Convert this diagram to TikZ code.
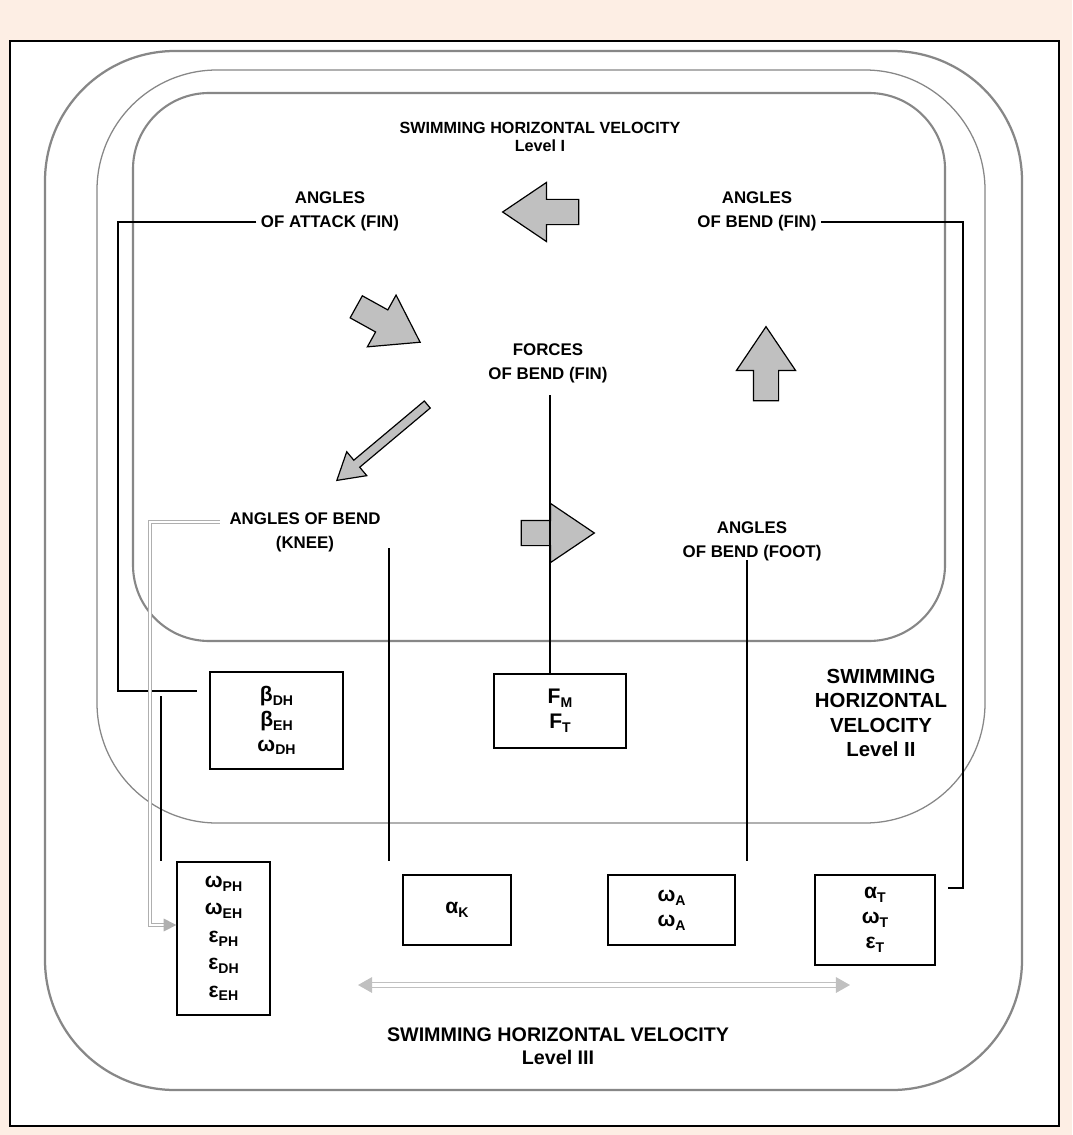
\documentclass[tikz,border=0pt]{standalone}
\usepackage{fontspec}
\setmainfont{Liberation Sans}
\usetikzlibrary{arrows.meta, positioning, shapes.arrows}

\definecolor{peach}{RGB}{253,238,228}
\definecolor{ringgray}{RGB}{135,135,135}
\definecolor{arrowfill}{RGB}{192,192,192}
\definecolor{feedgray}{RGB}{175,175,175}

\newcommand{\vsub}[1]{\raisebox{-0.35ex}{\fontsize{10}{10}\selectfont #1}}

\tikzset{
  ring/.style={draw=ringgray},
  lab/.style={font=\bfseries\fontsize{12}{17}\selectfont, align=center, inner sep=1pt},
  varbox/.style={draw, line width=0.9pt, align=center, inner sep=0pt,
    font=\bfseries\fontsize{15}{17.7}\selectfont},
  conn/.style={line width=0.9pt},
  fatarrow/.style={single arrow, draw, fill=arrowfill, line width=0.85pt,
    minimum height=1.85cm, inner sep=0.3cm, single arrow head extend=0.425cm,
    single arrow tip angle=68},
  feed/.style={draw=feedgray, double=white, double distance=1.8pt, line width=0.8pt},
}

\begin{document}
\begin{tikzpicture}[x=0.025cm, y=-0.025cm]
  \useasboundingbox (0,0) rectangle (1072,1135);
  \fill[peach] (0,0) rectangle (1072,1135);
  \draw[line width=1.3pt, fill=white] (10,41) rectangle (1059,1126);

  % velocity levels
  \draw[ring, line width=1.6pt, rounded corners=3.25cm] (45,51) rectangle (1022,1090);
  \draw[ring, line width=0.9pt, rounded corners=3cm] (97,70) rectangle (985,823);
  \draw[ring, line width=1.5pt, rounded corners=1.9cm] (133,93) rectangle (945,641);

  % labels
  \node[lab, font=\bfseries\fontsize{11.5}{13}\selectfont] (lvlone) at (540,137) {SWIMMING HORIZONTAL VELOCITY\\Level I};
  \node[lab] (attack) at (330,211) {ANGLES\\OF ATTACK (FIN)};
  \node[lab] (bendfin) at (757,211) {ANGLES\\OF BEND (FIN)};
  \node[lab] (forces) at (548,363) {FORCES\\OF BEND (FIN)};
  \node[lab] (knee) at (305,532) {ANGLES OF BEND\\(KNEE)};
  \node[lab] (foot) at (752,541) {ANGLES\\OF BEND (FOOT)};
  \node[lab, font=\bfseries\fontsize{14.5}{17.2}\selectfont] (lvltwo) at (881,713) {SWIMMING\\HORIZONTAL\\VELOCITY\\Level II};
  \node[lab, font=\bfseries\fontsize{14}{16}\selectfont] (lvlthree) at (558,1046) {SWIMMING HORIZONTAL VELOCITY\\Level III};

  % variable boxes
  \node[varbox, minimum width=3.325cm, minimum height=2.425cm] (betabox) at (276.5,720.5)
    {β\vsub{DH}\\β\vsub{EH}\\ω\vsub{DH}};
  \node[varbox, minimum width=3.3cm, minimum height=1.85cm] (fbox) at (560,711)
    {F\vsub{M}\\F\vsub{T}};
  \node[varbox, minimum width=2.325cm, minimum height=3.825cm,
    font=\bfseries\fontsize{15}{19.5}\selectfont] (phbox) at (223.5,938.5)
    {ω\vsub{PH}\\ω\vsub{EH}\\ε\vsub{PH}\\ε\vsub{DH}\\ε\vsub{EH}};
  \node[varbox, minimum width=2.7cm, minimum height=1.75cm] (kbox) at (457,910) {α\vsub{K}};
  \node[varbox, minimum width=3.175cm, minimum height=1.75cm] (abox) at (671.5,910)
    {ω\vsub{A}\\ω\vsub{A}};
  \node[varbox, minimum width=3cm, minimum height=2.25cm] (tbox) at (875,920)
    {α\vsub{T}\\ω\vsub{T}\\ε\vsub{T}};

  % block arrows
  \node[fatarrow, minimum height=1.9cm, rotate=180] (leftarr) at (550,212) {};
  \node[fatarrow, minimum height=1.825cm, rotate=-29] (searr) at (380,320) {};
  \node[fatarrow, rotate=90] (uparr) at (766,373) {};
  \node[fatarrow, minimum height=1.825cm] (rightarr) at (548.5,533) {};
  \node[fatarrow, minimum height=2.95cm, inner sep=0.1cm, single arrow head extend=0.275cm,
    single arrow tip angle=62, rotate=220] (thinarr) at (385,440) {};

  % connectors
  \coordinate (atkbend) at (118,691);
  \coordinate (betatail) at (161,696);
  \coordinate (kneetail) at (389,548);
  \coordinate (forcestail) at (550,395);
  \coordinate (foottail) at (747,560);
  \coordinate (finbend) at (963,888);
  \draw[conn] (attack.west) ++(-3,11) -| (atkbend) -- ([xshift=-0.3cm]betabox.west |- atkbend);
  \draw[conn] (betatail) -- (betatail |- phbox.north);
  \draw[conn] (kneetail) -- (kneetail |- phbox.north);
  \draw[conn] (forcestail) -- (forcestail |- fbox.north);
  \draw[conn] (foottail) -- (foottail |- phbox.north);
  \draw[conn] (bendfin.east) ++(3,11) -| (finbend) -- ([xshift=0.3cm]tbox.east |- finbend);

  % velocity feedback arrows
  \coordinate (kneefeed) at (150,925);
  \coordinate (spanL) at (358,985);
  \coordinate (spanR) at (850,985);
  \draw[feed, -{Triangle[length=9pt, width=9pt]}] ([shift={(-8,-10)}]knee.west) -| (kneefeed)
    -- (phbox.west |- kneefeed);
  \draw[feed, draw=arrowfill, line width=1.2pt, double distance=2.4pt,
    {Triangle[length=10pt, width=11pt]}-{Triangle[length=10pt, width=11pt]}] (spanL) -- (spanR);
\end{tikzpicture}
\end{document}
